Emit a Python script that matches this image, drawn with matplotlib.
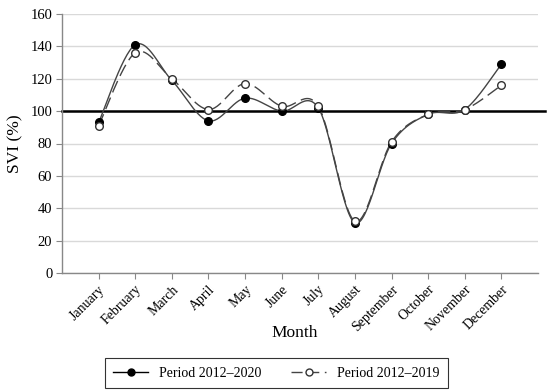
import numpy as np
import matplotlib
matplotlib.use("Agg")
import matplotlib.pyplot as plt
from matplotlib.lines import Line2D

months = ["January", "February", "March", "April", "May", "June", "July",
          "August", "September", "October", "November", "December"]
svi_2020 = [93, 141, 119, 94, 108, 100, 102, 31, 80, 98, 101, 129]
svi_2019 = [91, 136, 120, 101, 117, 103, 103, 32, 81, 98, 101, 116]
yticks = [0, 20, 40, 60, 80, 100, 120, 140, 160]

plt.rcParams['font.family'] = ['Liberation Serif', 'DejaVu Serif']


def smooth(x, y, n=30):
    """Excel-style smoothed line (Catmull-Rom as cubic Bezier)."""
    x = np.asarray(x, float)
    y = np.asarray(y, float)
    pts = np.column_stack([x, y])
    out = []
    for i in range(len(pts) - 1):
        p0 = pts[i - 1] if i > 0 else pts[i]
        p1 = pts[i]
        p2 = pts[i + 1]
        p3 = pts[i + 2] if i + 2 < len(pts) else pts[i + 1]
        c1 = p1 + (p2 - p0) / 6.0
        c2 = p2 - (p3 - p1) / 6.0
        t = np.linspace(0, 1, n)[:, None]
        seg = ((1 - t) ** 3) * p1 + 3 * ((1 - t) ** 2) * t * c1 + 3 * (1 - t) * t ** 2 * c2 + t ** 3 * p2
        out.append(seg if i == 0 else seg[1:])
    s = np.vstack(out)
    return s[:, 0], s[:, 1]


fig = plt.figure(figsize=(5.5, 3.9), dpi=100)
ax = fig.add_axes([62 / 550, 1 - 273 / 390, 476 / 550, 259 / 390])

xs = np.arange(1, len(months) + 1)

ax.set_xlim(0, 13)
ax.set_ylim(0, 160)
ax.set_yticks(yticks)
ax.yaxis.grid(True, color='#d9d9d9', linewidth=1.0)
ax.set_axisbelow(True)

ax.axhline(100, xmin=0, xmax=1.015, color='black', linewidth=1.8, clip_on=False, zorder=2)

sx, sy = smooth(xs, svi_2020)
ax.plot(sx, sy, color='#444444', linewidth=1.0, zorder=3)
ax.plot(xs, svi_2020, linestyle='none', marker='o', markersize=5.5,
        markerfacecolor='black', markeredgecolor='black', zorder=4)

sx, sy = smooth(xs, svi_2019)
ax.plot(sx, sy, color='#444444', linewidth=1.0, dashes=(9, 4), zorder=3)
ax.plot(xs, svi_2019, linestyle='none', marker='o', markersize=5.5,
        markerfacecolor='white', markeredgecolor='#333333', markeredgewidth=1.0, zorder=4)

ax.set_xticks(xs)
ax.set_xticklabels(months, rotation=45, ha='right', rotation_mode='anchor', fontsize=10)
ax.tick_params(axis='y', labelsize=10.5, length=4, color='#888888', pad=3)
ax.tick_params(axis='x', length=4, color='#888888', pad=3)

for side in ['top', 'right']:
    ax.spines[side].set_visible(False)
for side in ['left', 'bottom']:
    ax.spines[side].set_color('#888888')
    ax.spines[side].set_linewidth(1.0)

ax.set_ylabel('SVI (%)', fontsize=12.5, labelpad=5)
fig.text(295 / 550, 1 - 333 / 390, 'Month', fontsize=12.5, ha='center', va='center')

h1 = Line2D([], [], color='black', linewidth=1.0, marker='o', markersize=5,
            markerfacecolor='black', markeredgecolor='black')
h2 = Line2D([], [], color='#444444', linewidth=1.0, dashes=(8, 4), marker='o', markersize=5,
            markerfacecolor='white', markeredgecolor='#333333')
leg = fig.legend([h1, h2], ['Period 2012–2020', 'Period 2012–2019'],
                 loc='lower left', bbox_to_anchor=(105 / 550, 2 / 390, 343 / 550, 33 / 390),
                 mode='expand', ncol=2, fontsize=10, frameon=True, fancybox=False,
                 edgecolor='black', handlelength=2.5, borderaxespad=0, borderpad=0.6)
leg.get_frame().set_linewidth(0.8)

fig.savefig('out.png', dpi=100)
